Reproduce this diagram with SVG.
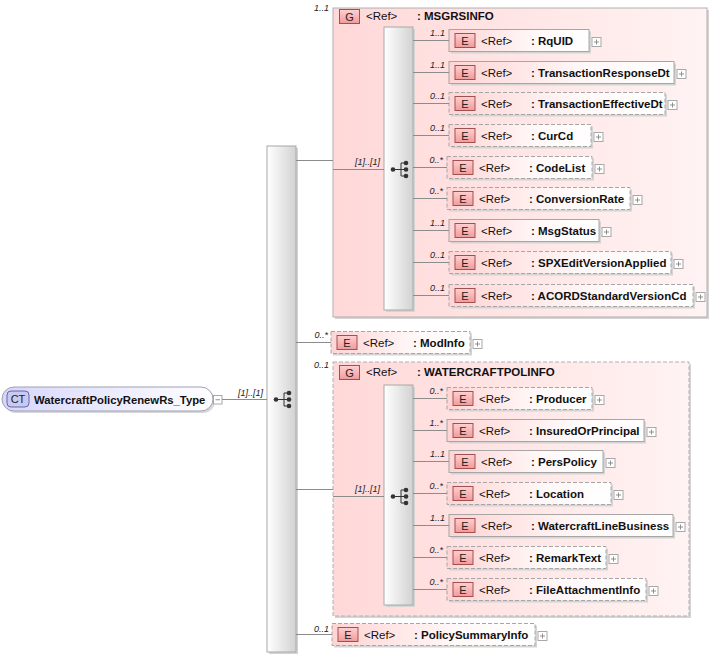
<svg xmlns="http://www.w3.org/2000/svg" width="713" height="656" viewBox="0 0 713 656">
<defs>
<linearGradient id="gGrp" x1="0" y1="0" x2="1" y2="0"><stop offset="0" stop-color="#ffd8d8"/><stop offset="1" stop-color="#fff3f3"/></linearGradient>
<linearGradient id="gEl" x1="0" y1="0" x2="1" y2="0"><stop offset="0" stop-color="#ffd4d4"/><stop offset="0.6" stop-color="#fff8f8"/><stop offset="1" stop-color="#ffffff"/></linearGradient>
<linearGradient id="gBadge" x1="0" y1="0" x2="0" y2="1"><stop offset="0" stop-color="#ffd0d0"/><stop offset="1" stop-color="#f29a9a"/></linearGradient>
<linearGradient id="gBar" x1="0" y1="0" x2="1" y2="0"><stop offset="0" stop-color="#ffffff"/><stop offset="1" stop-color="#d2d2d2"/></linearGradient>
<linearGradient id="gRoot" x1="0" y1="0" x2="1" y2="0"><stop offset="0" stop-color="#d6d6fc"/><stop offset="1" stop-color="#ffffff"/></linearGradient>
<g id="seqIcon">
<path d="M-5,0H3M3,-6.5V6.5M3,-6.5H8M3,0H8M3,6.5H8" stroke="#333" stroke-width="1" fill="none"/>
<circle cx="-5" cy="0" r="2.3" fill="#333"/>
<circle cx="8" cy="-6.5" r="2.3" fill="#333"/>
<circle cx="8" cy="0" r="2.3" fill="#333"/>
<circle cx="8" cy="6.5" r="2.3" fill="#333"/>
</g>
</defs>
<style>
.shadow{fill:#d4d4d4;}
.grp{fill:url(#gGrp);stroke:#b0b0b0;stroke-width:1;}
.dash{stroke-dasharray:4,2;}
.ebox{fill:url(#gEl);stroke:#a6a6a6;stroke-width:1;}
.badge{fill:url(#gBadge);stroke:#a05050;stroke-width:1;}
.bt{font-family:"Liberation Sans",Arial,sans-serif;font-size:11px;fill:#222;text-anchor:middle;}
.ref{font-family:"Liberation Sans",Arial,sans-serif;font-size:11.5px;fill:#111;}
.nm{font-family:"Liberation Sans",Arial,sans-serif;font-size:11.5px;font-weight:bold;fill:#111;}
.plus{fill:#fff;stroke:#a8a8a8;stroke-width:1;}
.pl{stroke:#909090;stroke-width:1;fill:none;}
.bar{fill:url(#gBar);stroke:#a8a8a8;stroke-width:1;}
.ln{stroke:#8c8c8c;stroke-width:1;fill:none;}
.card{font-family:"Liberation Sans",Arial,sans-serif;font-size:9px;font-style:italic;fill:#222;text-anchor:end;}
</style>

<!-- root -->
<g id="root">
<rect x="4" y="389" width="211" height="24" rx="12" fill="#d8d8d8"/>
<rect x="2" y="387" width="211" height="24" rx="12" fill="url(#gRoot)" stroke="#a0a0b4"/>
<rect x="7" y="391" width="22" height="16" rx="4" fill="#c9c9f2" stroke="#6666a6"/>
<text x="18" y="403" font-family="Liberation Sans,Arial,sans-serif" font-size="11px" fill="#222" text-anchor="middle">CT</text>
<text x="34" y="403.5" font-family="Liberation Sans,Arial,sans-serif" font-size="11.3px" font-weight="bold" fill="#111">WatercraftPolicyRenewRs_Type</text>
<rect x="213.5" y="395.5" width="8.5" height="8.5" fill="#fff" stroke="#a8a8a8"/>
<path class="pl" d="M215.5,399.75h4.5"/>
</g>

<!-- main sequence -->
<g id="seq-main">
<rect class="shadow" x="269" y="148" width="29" height="506"/>
<rect class="bar" x="267" y="146" width="29" height="506"/>
<use href="#seqIcon" x="281" y="399.5"/>
</g>

<!-- MSGRSINFO group -->
<g id="g-MSGRSINFO">
<rect class="shadow" x="335" y="10" width="374" height="309"/>
<rect class="grp" x="333" y="8" width="374" height="309"/>
<rect class="badge" x="339.5" y="9.5" width="20" height="14"/>
<text class="bt" x="349.5" y="20.5">G</text>
<text class="ref" x="366" y="20">&lt;Ref&gt;</text>
<text class="nm" x="417" y="20">: MSGRSINFO</text>
</g>
<g id="seq-MSGRSINFO">
<rect class="shadow" x="386" y="29" width="29" height="283"/>
<rect class="bar" x="384" y="27" width="29" height="283"/>
<use href="#seqIcon" x="398" y="169.5"/>
</g>

<g id="e-RqUID" transform="translate(449,40.5)">
<rect class="shadow" x="2" y="-9" width="140" height="22"/><rect class="ebox" x="0" y="-11" width="140" height="22"/>
<rect class="badge" x="6" y="-7" width="20" height="14"/><text class="bt" x="16" y="4">E</text>
<text class="ref" x="32" y="4">&lt;Ref&gt;</text><text class="nm" x="82" y="4">: RqUID</text>
<rect class="plus" x="143" y="-3" width="9" height="9"/><path class="pl" d="M145,1.5h5M147.5,-1v5"/>
</g>
<g id="e-TransactionResponseDt" transform="translate(449,72.5)">
<rect class="shadow" x="2" y="-9" width="225" height="22"/><rect class="ebox" x="0" y="-11" width="225" height="22"/>
<rect class="badge" x="6" y="-7" width="20" height="14"/><text class="bt" x="16" y="4">E</text>
<text class="ref" x="32" y="4">&lt;Ref&gt;</text><text class="nm" x="82" y="4">: TransactionResponseDt</text>
<rect class="plus" x="228" y="-3" width="9" height="9"/><path class="pl" d="M230,1.5h5M232.5,-1v5"/>
</g>
<g id="e-TransactionEffectiveDt" transform="translate(449,103.5)">
<rect class="shadow" x="2" y="-9" width="216" height="22"/><rect class="ebox dash" x="0" y="-11" width="216" height="22"/>
<rect class="badge" x="6" y="-7" width="20" height="14"/><text class="bt" x="16" y="4">E</text>
<text class="ref" x="32" y="4">&lt;Ref&gt;</text><text class="nm" x="82" y="4">: TransactionEffectiveDt</text>
<rect class="plus" x="219" y="-3" width="9" height="9"/><path class="pl" d="M221,1.5h5M223.5,-1v5"/>
</g>
<g id="e-CurCd" transform="translate(449,135.5)">
<rect class="shadow" x="2" y="-9" width="142" height="22"/><rect class="ebox dash" x="0" y="-11" width="142" height="22"/>
<rect class="badge" x="6" y="-7" width="20" height="14"/><text class="bt" x="16" y="4">E</text>
<text class="ref" x="32" y="4">&lt;Ref&gt;</text><text class="nm" x="82" y="4">: CurCd</text>
<rect class="plus" x="145" y="-3" width="9" height="9"/><path class="pl" d="M147,1.5h5M149.5,-1v5"/>
</g>
<g id="e-CodeList" transform="translate(447,167.5)">
<rect class="shadow" x="2" y="-9" width="145" height="22"/><rect class="ebox dash" x="0" y="-11" width="145" height="22"/>
<rect class="badge" x="6" y="-7" width="20" height="14"/><text class="bt" x="16" y="4">E</text>
<text class="ref" x="32" y="4">&lt;Ref&gt;</text><text class="nm" x="82" y="4">: CodeList</text>
<rect class="plus" x="148" y="-3" width="9" height="9"/><path class="pl" d="M150,1.5h5M152.5,-1v5"/>
</g>
<g id="e-ConversionRate" transform="translate(447,198.5)">
<rect class="shadow" x="2" y="-9" width="183" height="22"/><rect class="ebox dash" x="0" y="-11" width="183" height="22"/>
<rect class="badge" x="6" y="-7" width="20" height="14"/><text class="bt" x="16" y="4">E</text>
<text class="ref" x="32" y="4">&lt;Ref&gt;</text><text class="nm" x="82" y="4">: ConversionRate</text>
<rect class="plus" x="186" y="-3" width="9" height="9"/><path class="pl" d="M188,1.5h5M190.5,-1v5"/>
</g>
<g id="e-MsgStatus" transform="translate(449,230.5)">
<rect class="shadow" x="2" y="-9" width="150" height="22"/><rect class="ebox" x="0" y="-11" width="150" height="22"/>
<rect class="badge" x="6" y="-7" width="20" height="14"/><text class="bt" x="16" y="4">E</text>
<text class="ref" x="32" y="4">&lt;Ref&gt;</text><text class="nm" x="82" y="4">: MsgStatus</text>
<rect class="plus" x="153" y="-3" width="9" height="9"/><path class="pl" d="M155,1.5h5M157.5,-1v5"/>
</g>
<g id="e-SPXEditVersionApplied" transform="translate(449,262.5)">
<rect class="shadow" x="2" y="-9" width="222" height="22"/><rect class="ebox dash" x="0" y="-11" width="222" height="22"/>
<rect class="badge" x="6" y="-7" width="20" height="14"/><text class="bt" x="16" y="4">E</text>
<text class="ref" x="32" y="4">&lt;Ref&gt;</text><text class="nm" x="82" y="4">: SPXEditVersionApplied</text>
<rect class="plus" x="225" y="-3" width="9" height="9"/><path class="pl" d="M227,1.5h5M229.5,-1v5"/>
</g>
<g id="e-ACORDStandardVersionCd" transform="translate(449,295.5)">
<rect class="shadow" x="2" y="-9" width="244" height="22"/><rect class="ebox dash" x="0" y="-11" width="244" height="22"/>
<rect class="badge" x="6" y="-7" width="20" height="14"/><text class="bt" x="16" y="4">E</text>
<text class="ref" x="32" y="4">&lt;Ref&gt;</text><text class="nm" x="82" y="4">: ACORDStandardVersionCd</text>
<rect class="plus" x="247" y="-3" width="9" height="9"/><path class="pl" d="M249,1.5h5M251.5,-1v5"/>
</g>

<g id="e-ModInfo" transform="translate(331,342.5)">
<rect class="shadow" x="2" y="-9" width="139" height="22"/><rect class="ebox dash" x="0" y="-11" width="139" height="22"/>
<rect class="badge" x="6" y="-7" width="20" height="14"/><text class="bt" x="16" y="4">E</text>
<text class="ref" x="32" y="4">&lt;Ref&gt;</text><text class="nm" x="82" y="4">: ModInfo</text>
<rect class="plus" x="142" y="-3" width="9" height="9"/><path class="pl" d="M144,1.5h5M146.5,-1v5"/>
</g>

<!-- WATERCRAFTPOLINFO group -->
<g id="g-WATERCRAFTPOLINFO">
<rect class="shadow" x="335" y="364" width="356" height="254"/>
<rect class="grp dash" x="333" y="362" width="356" height="254"/>
<rect class="badge" x="339.5" y="365.5" width="20" height="14"/>
<text class="bt" x="349.5" y="376.5">G</text>
<text class="ref" x="366" y="376">&lt;Ref&gt;</text>
<text class="nm" x="417" y="376">: WATERCRAFTPOLINFO</text>
</g>
<g id="seq-WATERCRAFTPOLINFO">
<rect class="shadow" x="386" y="387" width="29" height="220"/>
<rect class="bar" x="384" y="385" width="29" height="220"/>
<use href="#seqIcon" x="398" y="496.5"/>
</g>

<g id="e-Producer" transform="translate(447,398.5)">
<rect class="shadow" x="2" y="-9" width="145" height="22"/><rect class="ebox dash" x="0" y="-11" width="145" height="22"/>
<rect class="badge" x="6" y="-7" width="20" height="14"/><text class="bt" x="16" y="4">E</text>
<text class="ref" x="32" y="4">&lt;Ref&gt;</text><text class="nm" x="82" y="4">: Producer</text>
<rect class="plus" x="148" y="-3" width="9" height="9"/><path class="pl" d="M150,1.5h5M152.5,-1v5"/>
</g>
<g id="e-InsuredOrPrincipal" transform="translate(447,430.5)">
<rect class="shadow" x="2" y="-9" width="197" height="22"/><rect class="ebox" x="0" y="-11" width="197" height="22"/>
<rect class="badge" x="6" y="-7" width="20" height="14"/><text class="bt" x="16" y="4">E</text>
<text class="ref" x="32" y="4">&lt;Ref&gt;</text><text class="nm" x="82" y="4">: InsuredOrPrincipal</text>
<rect class="plus" x="200" y="-3" width="9" height="9"/><path class="pl" d="M202,1.5h5M204.5,-1v5"/>
</g>
<g id="e-PersPolicy" transform="translate(449,461.5)">
<rect class="shadow" x="2" y="-9" width="154" height="22"/><rect class="ebox" x="0" y="-11" width="154" height="22"/>
<rect class="badge" x="6" y="-7" width="20" height="14"/><text class="bt" x="16" y="4">E</text>
<text class="ref" x="32" y="4">&lt;Ref&gt;</text><text class="nm" x="82" y="4">: PersPolicy</text>
<rect class="plus" x="157" y="-3" width="9" height="9"/><path class="pl" d="M159,1.5h5M161.5,-1v5"/>
</g>
<g id="e-Location" transform="translate(447,493.5)">
<rect class="shadow" x="2" y="-9" width="164" height="22"/><rect class="ebox dash" x="0" y="-11" width="164" height="22"/>
<rect class="badge" x="6" y="-7" width="20" height="14"/><text class="bt" x="16" y="4">E</text>
<text class="ref" x="32" y="4">&lt;Ref&gt;</text><text class="nm" x="82" y="4">: Location</text>
<rect class="plus" x="167" y="-3" width="9" height="9"/><path class="pl" d="M169,1.5h5M171.5,-1v5"/>
</g>
<g id="e-WatercraftLineBusiness" transform="translate(449,525.5)">
<rect class="shadow" x="2" y="-9" width="224" height="22"/><rect class="ebox" x="0" y="-11" width="224" height="22"/>
<rect class="badge" x="6" y="-7" width="20" height="14"/><text class="bt" x="16" y="4">E</text>
<text class="ref" x="32" y="4">&lt;Ref&gt;</text><text class="nm" x="82" y="4">: WatercraftLineBusiness</text>
<rect class="plus" x="227" y="-3" width="9" height="9"/><path class="pl" d="M229,1.5h5M231.5,-1v5"/>
</g>
<g id="e-RemarkText" transform="translate(447,557.5)">
<rect class="shadow" x="2" y="-9" width="159" height="22"/><rect class="ebox dash" x="0" y="-11" width="159" height="22"/>
<rect class="badge" x="6" y="-7" width="20" height="14"/><text class="bt" x="16" y="4">E</text>
<text class="ref" x="32" y="4">&lt;Ref&gt;</text><text class="nm" x="82" y="4">: RemarkText</text>
<rect class="plus" x="162" y="-3" width="9" height="9"/><path class="pl" d="M164,1.5h5M166.5,-1v5"/>
</g>
<g id="e-FileAttachmentInfo" transform="translate(447,589.5)">
<rect class="shadow" x="2" y="-9" width="199" height="22"/><rect class="ebox dash" x="0" y="-11" width="199" height="22"/>
<rect class="badge" x="6" y="-7" width="20" height="14"/><text class="bt" x="16" y="4">E</text>
<text class="ref" x="32" y="4">&lt;Ref&gt;</text><text class="nm" x="82" y="4">: FileAttachmentInfo</text>
<rect class="plus" x="202" y="-3" width="9" height="9"/><path class="pl" d="M204,1.5h5M206.5,-1v5"/>
</g>

<g id="e-PolicySummaryInfo" transform="translate(332,634.5)">
<rect class="shadow" x="2" y="-9" width="203" height="22"/><rect class="ebox dash" x="0" y="-11" width="203" height="22"/>
<rect class="badge" x="6" y="-7" width="20" height="14"/><text class="bt" x="16" y="4">E</text>
<text class="ref" x="32" y="4">&lt;Ref&gt;</text><text class="nm" x="82" y="4">: PolicySummaryInfo</text>
<rect class="plus" x="206" y="-3" width="9" height="9"/><path class="pl" d="M208,1.5h5M210.5,-1v5"/>
</g>

<!-- connectors -->
<g id="connectors">
<path class="ln" d="M222,399.5H267"/>
<text class="card" x="263" y="396">[1]..[1]</text>
<path class="ln" d="M296,160.5H333M333,169.5H384"/>
<text class="card" x="329" y="11">1..1</text>
<text class="card" x="380" y="165">[1]..[1]</text>
<path class="ln" d="M296,342.5H331"/>
<text class="card" x="328" y="338">0..*</text>
<path class="ln" d="M296,489.5H333M333,496.5H384"/>
<text class="card" x="329" y="368">0..1</text>
<text class="card" x="380" y="492">[1]..[1]</text>
<path class="ln" d="M296,634.5H332"/>
<text class="card" x="329" y="632">0..1</text>
<path class="ln" d="M413,40.5H449M413,72.5H449M413,103.5H449M413,135.5H449M413,167.5H447M413,198.5H447M413,230.5H449M413,262.5H449M413,295.5H449"/>
<text class="card" x="445" y="36">1..1</text>
<text class="card" x="445" y="68">1..1</text>
<text class="card" x="445" y="99">0..1</text>
<text class="card" x="445" y="131">0..1</text>
<text class="card" x="443" y="163">0..*</text>
<text class="card" x="443" y="194">0..*</text>
<text class="card" x="445" y="226">1..1</text>
<text class="card" x="445" y="258">0..1</text>
<text class="card" x="445" y="291">0..1</text>
<path class="ln" d="M413,398.5H447M413,430.5H447M413,461.5H449M413,493.5H447M413,525.5H449M413,557.5H447M413,589.5H447"/>
<text class="card" x="443" y="394">0..*</text>
<text class="card" x="443" y="426">1..*</text>
<text class="card" x="445" y="457">1..1</text>
<text class="card" x="443" y="489">0..*</text>
<text class="card" x="445" y="521">1..1</text>
<text class="card" x="443" y="553">0..*</text>
<text class="card" x="443" y="585">0..*</text>
</g>
</svg>
